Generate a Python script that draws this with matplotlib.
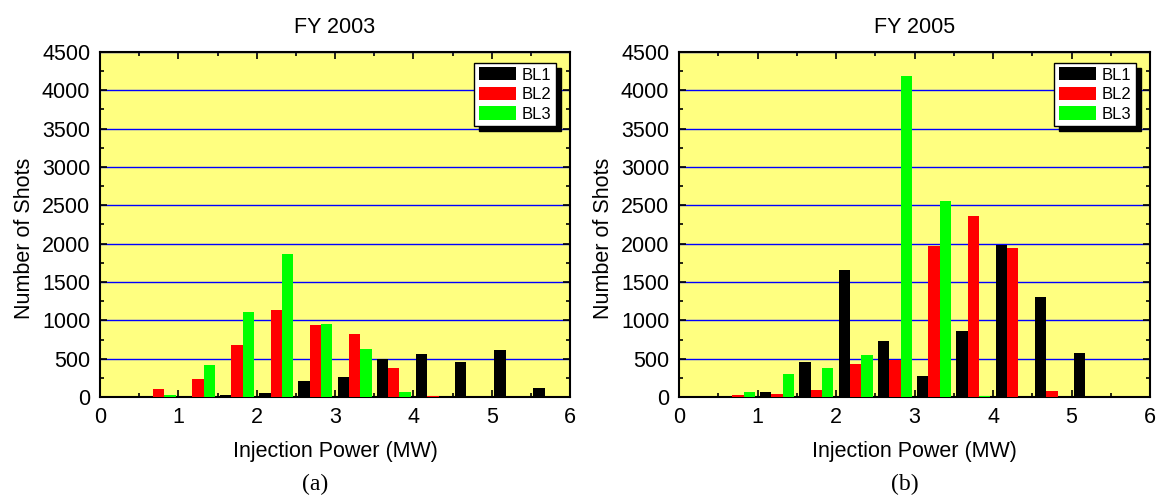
import matplotlib.pyplot as plt
from matplotlib.ticker import MultipleLocator

plt.rcParams['font.family'] = ['Liberation Sans', 'DejaVu Sans']

# bin centres (MW)
power_bins = [0.75, 1.25, 1.75, 2.25, 2.75, 3.25, 3.75, 4.25, 4.75, 5.25, 5.75]
beamlines = ["BL1", "BL2", "BL3"]

# FY 2003 shot counts
fy2003_bl1 = [0, 9, 22, 48, 209, 257, 500, 557, 452, 617, 122]
fy2003_bl2 = [100, 239, 678, 1130, 943, 817, 374, 9, 0, 0, 0]
fy2003_bl3 = [30, 413, 1104, 1861, 948, 630, 61, 0, 0, 0, 0]

# FY 2005 shot counts
fy2005_bl1 = [0, 61, 452, 1652, 730, 278, 857, 1983, 1300, 570, 0]
fy2005_bl2 = [22, 43, 96, 430, 483, 1970, 2357, 1939, 78, 0, 0]
fy2005_bl3 = [61, 304, 374, 548, 4183, 2557, 9, 0, 0, 0, 0]

colors = ['black', '#ff0000', '#00ff00']
bar_w = 0.145


def plot_panel(ax, title, series):
    ax.set_facecolor('#ffff80')
    for i, (vals, name, col) in enumerate(zip(series, beamlines, colors)):
        xs = [b + (i - 1) * bar_w for b in power_bins]
        ax.bar(xs, vals, width=bar_w, color=col, label=name, linewidth=0, zorder=3)

    ax.set_xlim(0, 6)
    ax.set_ylim(0, 4500)
    ax.xaxis.set_major_locator(MultipleLocator(1))
    ax.xaxis.set_minor_locator(MultipleLocator(0.5))
    ax.yaxis.set_major_locator(MultipleLocator(500))
    ax.yaxis.set_minor_locator(MultipleLocator(250))
    ax.yaxis.grid(True, color='#0000ff', linewidth=1.0, zorder=1)
    ax.set_axisbelow(True)

    ax.tick_params(which='both', direction='in', top=True, right=True,
                   labelsize=15.5, width=1.2)
    ax.tick_params(which='major', length=5, pad=7)
    ax.tick_params(which='minor', length=3)
    for sp in ax.spines.values():
        sp.set_linewidth(1.5)

    ax.set_title(title, fontsize=15.5, pad=14)
    ax.set_xlabel('Injection Power (MW)', fontsize=15.5)
    ax.set_ylabel('Number of Shots', fontsize=15.5)
    ax.xaxis.set_label_coords(0.5, -0.128)
    ax.yaxis.set_label_coords(-0.138, 0.46)

    leg = ax.legend(loc='upper right', bbox_to_anchor=(0.97, 0.968), borderaxespad=0,
                    fontsize=12, fancybox=False, framealpha=1, edgecolor='black',
                    handlelength=2.25, handleheight=0.85, handletextpad=0.35,
                    labelspacing=0.25, borderpad=0.25,
                    shadow={'ox': 3.6, 'oy': -3.6, 'facecolor': 'black',
                            'edgecolor': 'black', 'alpha': 1})
    leg.get_frame().set_linewidth(1.0)


fig = plt.figure(figsize=(11.58, 4.97), dpi=100)
ax1 = fig.add_axes([100 / 1158, 100 / 497, 470 / 1158, 345 / 497])
ax2 = fig.add_axes([679 / 1158, 100 / 497, 471 / 1158, 345 / 497])

plot_panel(ax1, 'FY 2003', [fy2003_bl1, fy2003_bl2, fy2003_bl3])
plot_panel(ax2, 'FY 2005', [fy2005_bl1, fy2005_bl2, fy2005_bl3])

fig.text(315 / 1158, 1 - 484 / 497, '(a)', ha='center', va='center',
         fontsize=17, family=['Liberation Serif', 'DejaVu Serif'])
fig.text(905 / 1158, 1 - 484 / 497, '(b)', ha='center', va='center',
         fontsize=17, family=['Liberation Serif', 'DejaVu Serif'])

fig.savefig('out.png', dpi=100)
